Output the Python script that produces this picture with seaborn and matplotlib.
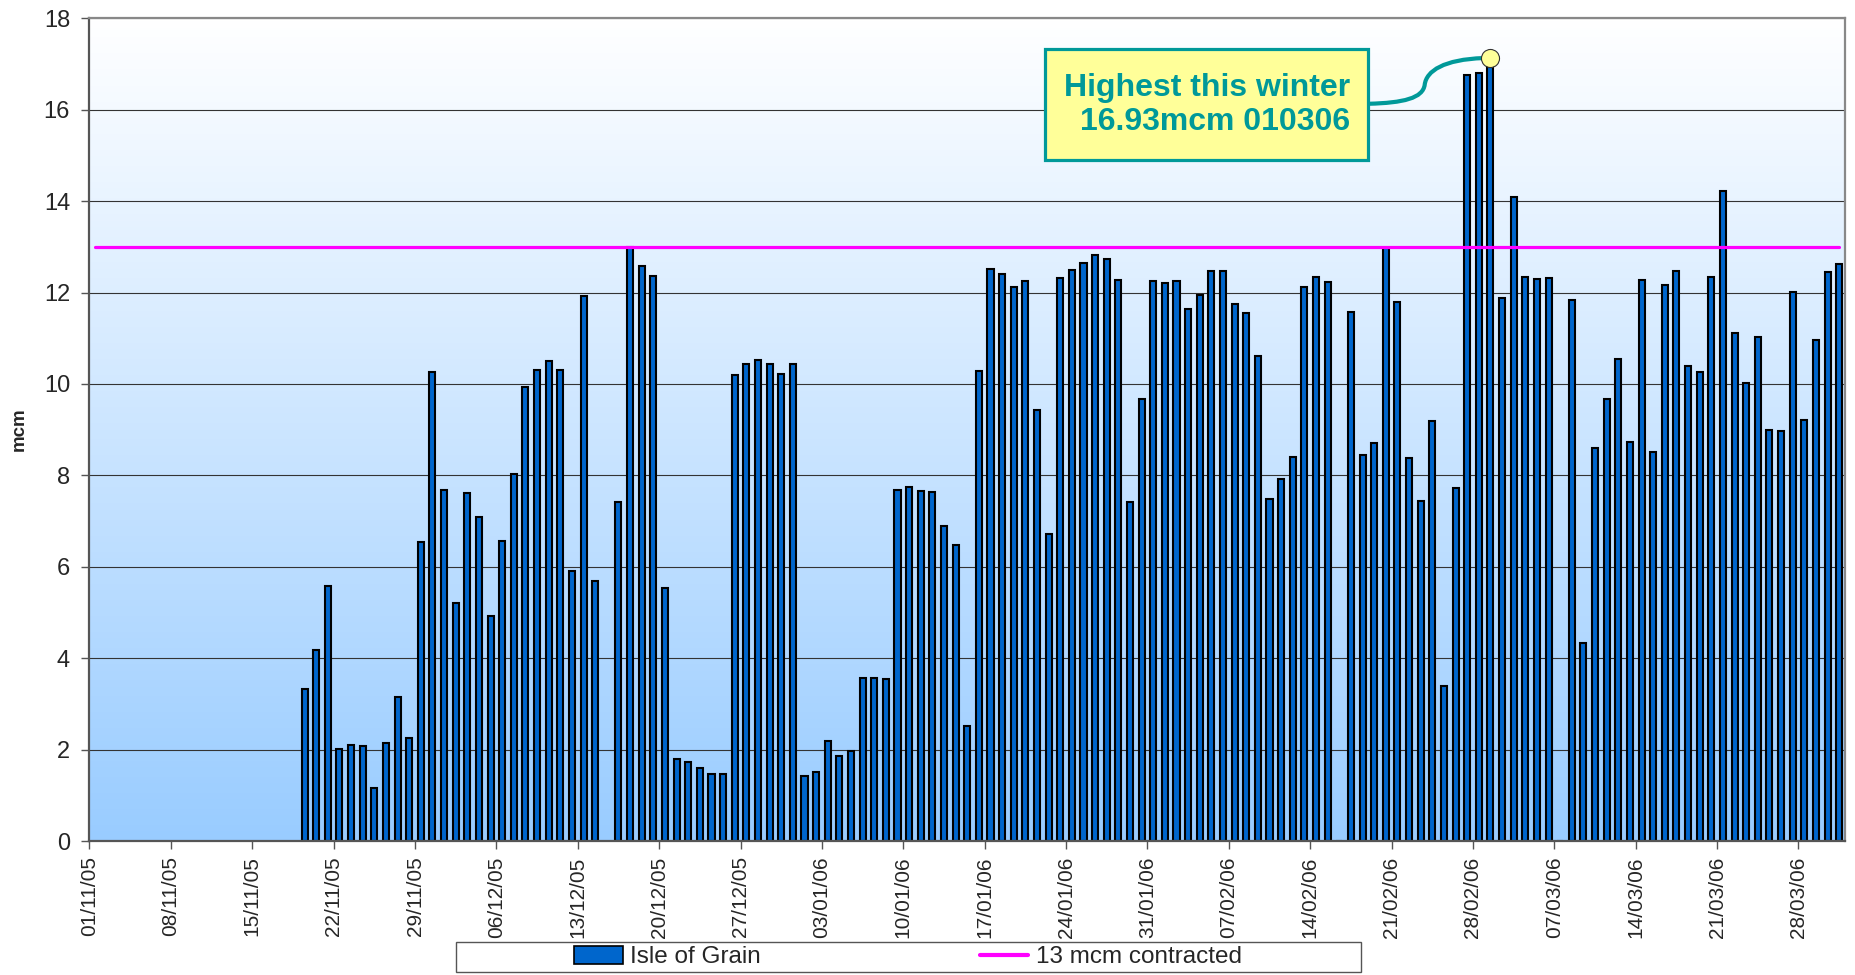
import numpy as np
import pandas as pd
import matplotlib
matplotlib.use("Agg")
import matplotlib.pyplot as plt
from matplotlib.patches import Rectangle, Patch, PathPatch
from matplotlib.lines import Line2D
from matplotlib.path import Path
from matplotlib.colors import LinearSegmentedColormap
import seaborn as sns

# daily flows (mcm), 01/11/05 - 31/03/06, None = no flow recorded
nov_values = [None] * 18 + [3.32, 4.17, 5.57, 2.02, 2.10, 2.07, 1.16, 2.15, 3.16, 2.26, 6.55, 10.27]
dec_values = [7.69, 5.21, 7.61, 7.09, 4.92, 6.56, 8.02, 9.94, 10.31, 10.50, 10.31, 5.90, 11.93, 5.68, None, 7.41,
              12.99, 12.59, 12.36, 5.54, 1.80, 1.72, 1.59, 1.46, 1.46, 10.20, 10.44, 10.52, 10.43, 10.21, 10.44]
jan_values = [1.42, 1.52, 2.19, 1.87, 1.97, 3.57, 3.57, 3.55, 7.67, 7.75, 7.65, 7.64, 6.89, 6.48, 2.52, 10.29,
              12.51, 12.40, 12.13, 12.25, 9.43, 6.72, 12.32, 12.50, 12.65, 12.83, 12.73, 12.27, 7.41, 9.68, 12.25]
feb_values = [12.20, 12.25, 11.63, 11.94, 12.47, 12.47, 11.76, 11.55, 10.62, 7.49, 7.91, 8.41, 12.12, 12.34,
              12.23, 0, 11.57, 8.45, 8.70, 12.97, 11.79, 8.37, 7.43, 9.18, 3.39, 7.72, 16.75, 16.80]
mar_values = [16.93, 11.87, 14.10, 12.35, 12.29, 12.32, 0, 11.83, 4.33, 8.59, 9.68, 10.54, 8.73, 12.27, 8.51,
              12.16, 12.48, 10.40, 10.27, 12.34, 14.23, 11.12, 10.03, 11.03, 9.00, 8.97, 12.02, 9.22, 10.97,
              12.44, 12.63]
contracted = 13
dates = pd.date_range("2005-11-01", "2006-03-31").strftime("%d/%m/%y").tolist()
tick_every = 7

values = nov_values + dec_values + jan_values + feb_values + mar_values
df = pd.DataFrame({"date": dates, "mcm": values}).dropna()

sns.set_theme(style="white")
plt.rcParams["font.family"] = ["Liberation Sans", "DejaVu Sans"]

fig = plt.figure(figsize=(18.56, 9.75), dpi=100)
ax = fig.add_axes([89.5 / 1856, 1 - 841 / 975, (1845 - 89.5) / 1856, (841 - 18.3) / 975])

# gradient background white -> light blue
grad = LinearSegmentedColormap.from_list("bg", ["#99CCFF", "#FFFFFF"])
ax.imshow(np.linspace(0, 1, 256).reshape(-1, 1), cmap=grad, origin="lower", aspect="auto",
          extent=[0, 1, 0, 1], transform=ax.transAxes, zorder=0)

sns.barplot(data=df, x="date", y="mcm", order=dates, color="#0066CC", saturation=1,
            edgecolor="black", linewidth=1.5, width=0.52, errorbar=None, ax=ax, zorder=2)

ax.plot(np.arange(len(dates)), [contracted] * len(dates), color="#FF00FF", lw=2.3, zorder=3)

ax.set_xlim(-0.5, len(dates) - 0.5)
ax.set_ylim(0, 18)
ax.set_yticks(range(0, 19, 2))
ax.grid(axis="y", color="#333333", lw=0.8)
ax.set_axisbelow(True)
for g in ax.get_ygridlines():
    g.set_zorder(1)

tick_pos = np.arange(0, len(dates), tick_every)
ax.set_xticks(tick_pos - 0.5)
ax.set_xticklabels([dates[i] for i in tick_pos], rotation=90, fontsize=15)
ax.tick_params(axis="x", length=6, width=1, color="#555555", pad=5, direction="out", bottom=True)
ax.tick_params(axis="y", length=6, width=1, color="#555555", pad=8, direction="out", left=True, labelsize=17)
ax.set_xlabel("")
ax.set_ylabel("mcm", fontsize=13.5, fontweight="bold")
ax.yaxis.set_label_coords(-0.035, 0.5)

for side in ["left", "bottom"]:
    ax.spines[side].set_color("#555555")
    ax.spines[side].set_linewidth(1.6)
for side in ["top", "right"]:
    ax.spines[side].set_color("#888888")
    ax.spines[side].set_linewidth(1.6)

# callout for the peak day
peak_i = int(np.nanargmax(np.array(values, dtype=float)))
peak_v = values[peak_i]
ax.add_patch(Rectangle((81.7, 14.9), 27.8, 2.43, facecolor="#FFFF99", edgecolor="#009999",
                       lw=2.3, zorder=5))
ax.text(107.9, 16.1, f"Highest this winter\n{peak_v:.2f}mcm 010306", ha="right", va="center",
        multialignment="right", fontsize=23, fontweight="bold", color="#009999",
        linespacing=1.15, zorder=6)
verts = [(109.54, 16.13), (112.5, 16.15), (114.2, 16.25), (114.35, 16.55),
         (114.5, 16.85), (116.0, 17.1), (peak_i - 0.6, 17.13)]
codes = [Path.MOVETO] + [Path.CURVE4] * 6
ax.add_patch(PathPatch(Path(verts, codes), fill=False, edgecolor="#009999", lw=3, zorder=5))
ax.plot([peak_i], [17.13], marker="o", markersize=13, markerfacecolor="#FFFF99",
        markeredgecolor="#333333", markeredgewidth=0.8, zorder=7, clip_on=False)

# legend
handles = [Patch(facecolor="#0066CC", edgecolor="black", lw=1.2),
           Line2D([0], [0], color="#FF00FF", lw=3)]
fig.legend(handles, ["Isle of Grain", "13 mcm contracted"], loc="center",
           bbox_to_anchor=(908 / 1856, 1 - 957 / 975), ncol=2, frameon=False, fontsize=17.5,
           handlelength=2.0, handleheight=0.8, handletextpad=0.3, columnspacing=9.0, borderpad=0)
fig.patches.append(Rectangle((456 / 1856, 3 / 975), 905 / 1856, 30 / 975, transform=fig.transFigure,
                             fill=False, edgecolor="#555555", lw=1))

fig.savefig("out.png", dpi=100)
